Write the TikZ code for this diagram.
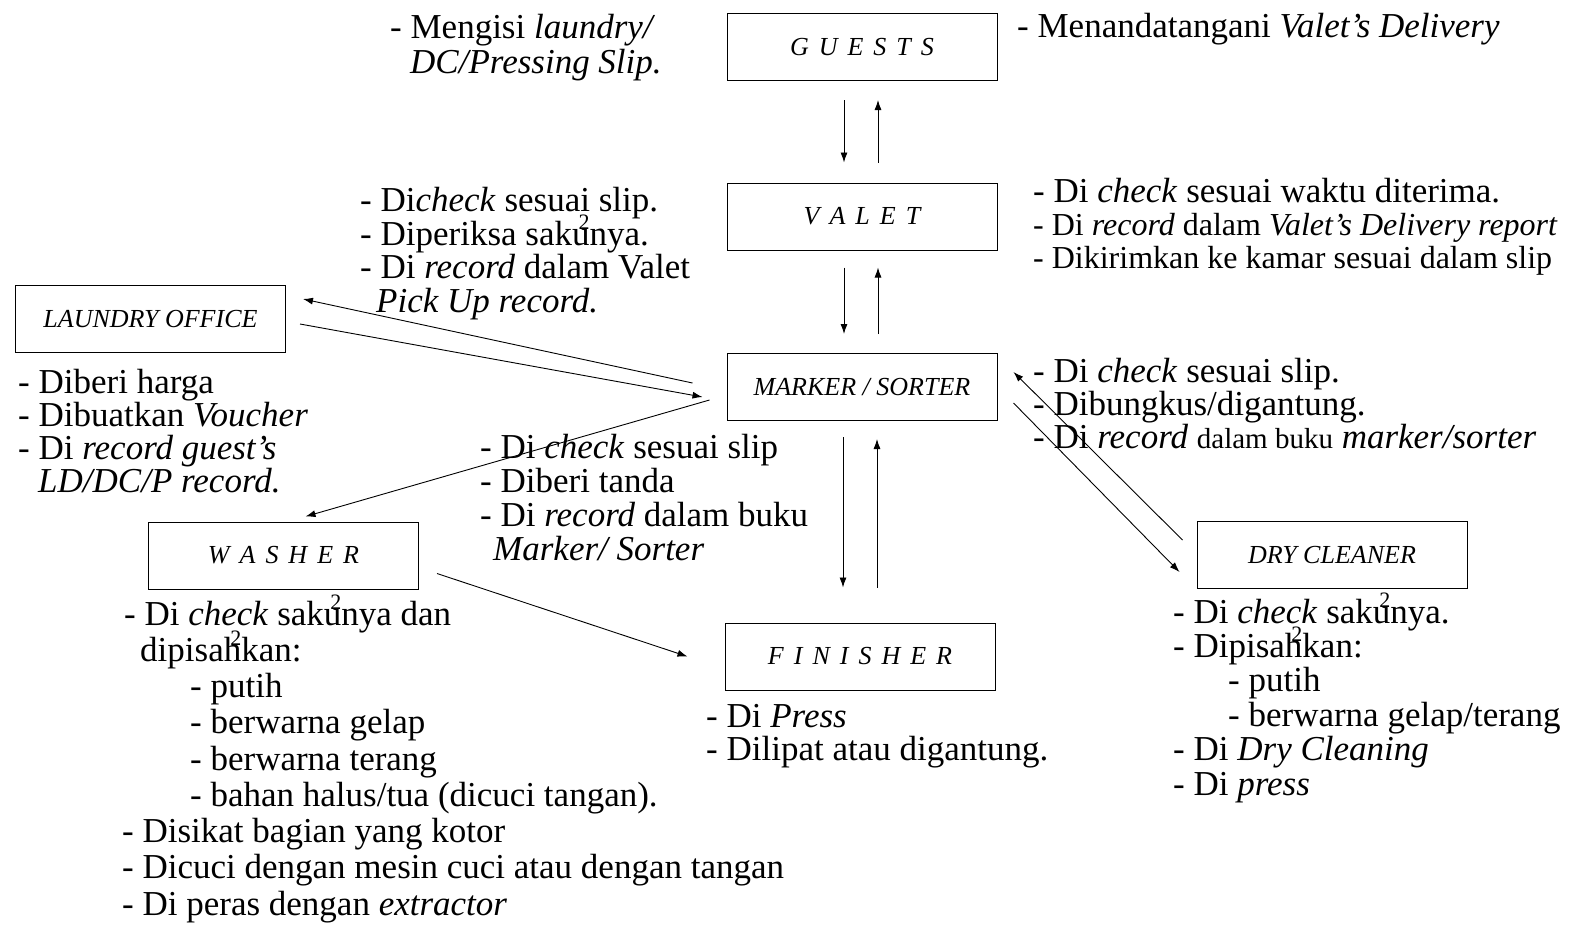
\documentclass[tikz,border=0pt]{standalone}
\usepackage{fontspec}
\setmainfont{Liberation Serif}
\usetikzlibrary{arrows.meta}
\newcommand\ii{\llap{\smash{\raisebox{0.45em}{\fontsize{22}{22}\selectfont 2}}}}
\newcommand\lgap{\hspace{10pt}}
\begin{document}
\begin{tikzpicture}[x=1pt,y=-1pt,
 box/.style={draw, line width=1pt, minimum width=270pt, minimum height=67pt, inner sep=0pt, font=\fontsize{26}{26}\selectfont\itshape},
 txt/.style={anchor=base west, inner sep=0pt, align=left, font=\fontsize{35}{33}\selectfont},
 arr/.style={line width=0.9pt, -{Latex[length=10pt,width=7pt]}}]
\useasboundingbox[fill=white] (0,0) rectangle (1569,927);

% boxes
\node[box] (guests) at (862,47) {G\lgap U\lgap E\lgap S\lgap T\lgap S};
\node[box] (valet) at (862,216.5) {V\lgap A\lgap L\lgap E\lgap T};
\node[box] (marker) at (862,387) {MARKER / SORTER};
\node[box] (laundry) at (150.5,319) {LAUNDRY OFFICE};
\node[box] (washer) at (283.5,555.5) {W\lgap A\lgap S\lgap H\lgap E\lgap R};
\node[box] (finisher) at (860,656.5) {F\lgap I\lgap N\lgap I\lgap S\lgap H\lgap E\lgap R};
\node[box] (dry) at (1332,555) {DRY CLEANER};

% vertical arrows
\draw[arr, shorten <=19pt, shorten >=20pt] ([shift={(-18,0)}]guests.south) -- ([shift={(-18,0)}]guests.south |- valet.north);
\draw[arr, shorten <=20pt, shorten >=19pt] ([shift={(16,0)}]guests.south |- valet.north) -- ([shift={(16,0)}]guests.south);
\draw[arr, shorten <=17pt, shorten >=19pt] ([shift={(-18,0)}]valet.south) -- ([shift={(-18,0)}]valet.south |- marker.north);
\draw[arr, shorten <=19pt, shorten >=17pt] ([shift={(16,0)}]valet.south |- marker.north) -- ([shift={(16,0)}]valet.south);
\draw[arr, shorten <=16pt, shorten >=35pt] ([shift={(-19,0)}]marker.south) -- ([shift={(-19,0)}]marker.south |- finisher.north);
\draw[arr, shorten <=35pt, shorten >=18pt] ([shift={(15,0)}]marker.south |- finisher.north) -- ([shift={(15,0)}]marker.south);

% diagonal arrows
\draw[arr] ([shift={(-34,-4)}]marker.west) -- ([shift={(17,-20)}]laundry.east);
\draw[arr] ([shift={(14,5)}]laundry.east) -- ([shift={(-24,10)}]marker.west);
\draw[arr] ([shift={(-17,13)}]marker.west) -- ([shift={(22,-5)}]washer.north);
\draw[arr] ([shift={(18,18)}]washer.east) -- ([shift={(-37,0)}]finisher.west);
\draw[arr] ([shift={(-14,-15)}]dry.west) -- ([shift={(16,-15)}]marker.east);
\draw[arr] ([shift={(16,16)}]marker.east) -- ([shift={(-17,17)}]dry.west);

% texts (anchored at the baseline of the LAST line)
\node[txt, font=\fontsize{35}{35}\selectfont] (t1) at (390,73) {- Mengisi \textit{laundry/}\\\hspace*{20pt}\textit{DC/Pressing Slip.}};
\node[txt] (t2) at (1017,37) {- Menandatangani \textit{Valet's Delivery}};
\node[txt, font=\fontsize{35}{33.5}\selectfont] (t3) at (360,312) {- Di\textit{check} sesuai slip.\\- Diperiksa saku\ii nya.\\- Di \textit{record} dalam Valet\\\hspace*{16pt}\textit{Pick Up record.}};
\node[txt] (t4) at (1033,202) {- Di \textit{check} sesuai waktu diterima.};
\node[txt, font=\fontsize{32}{33}\selectfont] (t5) at (1033,268) {- Di \textit{record} dalam \textit{Valet's Delivery report}\\- Dikirimkan ke kamar sesuai dalam slip};
\node[txt] (t6) at (18,492) {- Diberi harga\\- Dibuatkan \textit{Voucher}\\- Di \textit{record guest's}\\\hspace*{20pt}\textit{LD/DC/P record.}};
\node[txt] (t7) at (1033,448) {- Di \textit{check} sesuai slip.\\- Dibungkus/digantung.\\- Di \textit{record} {\fontsize{29}{33}\selectfont dalam buku} \textit{marker/sorter}};
\node[txt, font=\fontsize{35}{34}\selectfont] (t8) at (480,560) {- Di \textit{check} sesuai slip\\- Diberi tanda\\- Di \textit{record} dalam buku\\\hspace*{13pt}\textit{Marker/ Sorter}};
\node[txt, font=\fontsize{35}{36.25}\selectfont] (t9) at (122,915) {\hspace*{2pt}- Di \textit{check} saku\ii nya dan\\\hspace*{18pt}dipisah\ii kan:\\\hspace*{68pt}- putih\\\hspace*{68pt}- berwarna gelap\\\hspace*{68pt}- berwarna terang\\\hspace*{68pt}- bahan halus/tua (dicuci tangan).\\- Disikat bagian yang kotor\\- Dicuci dengan mesin cuci atau dengan tangan\\- Di peras dengan \textit{extractor}};
\node[txt] (t10) at (706,760) {- Di \textit{Press}\\- Dilipat atau digantung.};
\node[txt, font=\fontsize{35}{34.4}\selectfont] (t11) at (1173,795) {- Di \textit{check} saku\ii nya.\\- Dipisah\ii kan:\\\hspace*{55pt}- putih\\\hspace*{55pt}- berwarna gelap/terang\\- Di \textit{Dry Cleaning}\\- Di \textit{press}};
\end{tikzpicture}
\end{document}
